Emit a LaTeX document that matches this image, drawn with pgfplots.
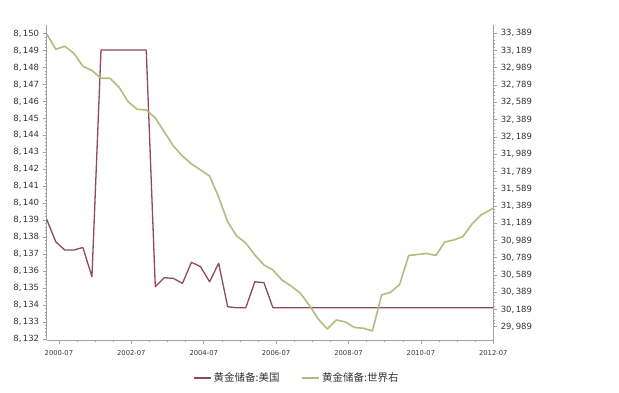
\documentclass[border=0pt]{standalone}
\usepackage{pgfplots}
\pgfplotsset{compat=1.18}
\usepackage{fontspec}
\setmainfont{DejaVu Sans}
\newfontfamily\cjk{Noto Sans CJK SC}
\definecolor{usred}{HTML}{8C4A5C}
\definecolor{wgreen}{HTML}{B3BC7C}
\definecolor{axgray}{HTML}{A0A0A0}
\definecolor{txt}{HTML}{333333}

\pgfplotstableread{
i v
0 8139.05
1 8137.73
2 8137.24
3 8137.24
4 8137.39
5 8135.67
6 8149.03
7 8149.03
8 8149.03
9 8149.03
10 8149.03
11 8149.03
12 8135.08
13 8135.61
14 8135.57
15 8135.28
16 8136.52
17 8136.26
18 8135.37
19 8136.46
20 8133.90
21 8133.84
22 8133.84
23 8135.37
24 8135.32
25 8133.84
26 8133.84
27 8133.84
28 8133.84
29 8133.84
30 8133.84
31 8133.84
32 8133.84
33 8133.84
34 8133.84
35 8133.84
36 8133.84
37 8133.84
38 8133.84
39 8133.84
40 8133.84
41 8133.84
42 8133.84
43 8133.84
44 8133.84
45 8133.84
46 8133.84
47 8133.84
48 8133.84
49 8133.84
49.35 8133.84
}\usdata

\pgfplotstableread{
i v
0 33381
1 33204
2 33238
3 33157
4 33007
5 32958
6 32868
7 32868
8 32763
9 32596
10 32508
11 32500
12 32408
13 32245
14 32083
15 31967
16 31875
17 31805
18 31736
19 31492
20 31203
21 31040
22 30959
23 30820
24 30704
25 30646
26 30530
27 30461
28 30380
29 30241
30 30079
31 29963
32 30067
33 30044
34 29980
35 29971
36 29940
37 30357
38 30388
39 30478
40 30814
41 30826
42 30838
43 30814
44 30971
45 30994
46 31035
47 31179
48 31284
49 31342
49.35 31362
}\worlddata

\pgfplotsset{
  common/.style={
    at={(46.7pt,53pt)}, anchor=south west,
    width=446.6pt, height=315pt, scale only axis,
    xmin=0, xmax=49.35,
    axis line style={axgray, line width=0.8pt, -},
    tick style={axgray, line width=0.6pt},
    tick align=outside,
    major tick length=4pt, minor tick length=2pt,
    clip=false,
    scaled y ticks=false, scaled x ticks=false,
    yticklabel style={font=\fontsize{8.5}{9}\selectfont, text=txt},
    /pgf/number format/fixed,
    /pgf/number format/precision=0,
    /pgf/number format/1000 sep={,\,},
    /pgf/number format/assume math mode=true,
  }
}

\begin{document}
\begin{tikzpicture}
\path[use as bounding box] (0pt,0pt) rectangle (619pt,393pt);
\begin{axis}[common,
  ymin=8131.94, ymax=8150.5,
  axis x line*=bottom, axis y line*=left,
  xtick={1.35,9.35,17.35,25.35,33.35,41.35,49.35},
  xticklabels={2000-07,2002-07,2004-07,2006-07,2008-07,2010-07,2012-07},
  minor x tick num=3,
  xticklabel style={font=\fontsize{6.8}{7}\selectfont, text=txt, yshift=-3pt},
  ytick={8132,8133,8134,8135,8136,8137,8138,8139,8140,8141,8142,8143,8144,8145,8146,8147,8148,8149,8150},
  minor y tick num=4,
  legend columns=2,
  legend style={at={(0.5605,-0.1206)}, anchor=center, draw=none, fill=none,
    font=\cjk\fontsize{10.5}{11}\selectfont, text=txt,
    /tikz/every even column/.append style={column sep=20pt}},
  legend image code/.code={\draw[#1] (0pt,0pt) -- (17pt,0pt);},
]
\addplot[usred, line width=1.3pt, line join=round] table[x=i, y=v] {\usdata};
\addlegendentry{黄金储备:美国}
\addlegendimage{wgreen, line width=1.6pt}
\addlegendentry{黄金储备:世界右}
\end{axis}
\begin{axis}[common,
  ymin=29835, ymax=33485,
  axis x line=none, axis y line*=right,
  ytick={29989,30189,30389,30589,30789,30989,31189,31389,31589,31789,31989,32189,32389,32589,32789,32989,33189,33389},
  minor y tick num=4,
]
\addplot[wgreen, line width=1.6pt, line join=round] table[x=i, y=v] {\worlddata};
\end{axis}
\end{tikzpicture}
\end{document}
